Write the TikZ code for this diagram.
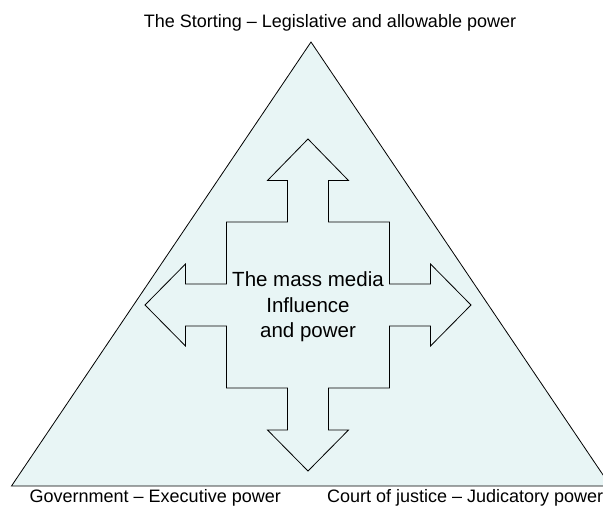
\documentclass[tikz,border=0pt]{standalone}
\usepackage{fontspec}
\setmainfont{Liberation Sans}
\usetikzlibrary{positioning}
\definecolor{paleblue}{RGB}{232,245,245}

\begin{document}
\begin{tikzpicture}[
  x=1pt,y=-1pt,line width=0.8pt,
  power/.style={inner sep=0pt,font=\fontsize{18}{21}\selectfont},
  panel/.style={draw=black,fill=paleblue,line join=miter}
  ]
  \useasboundingbox (0,0) rectangle (603,506);
  \clip (0,0) rectangle (603,506);
  \coordinate (apex)  at (311,42);
  \coordinate (west)  at (11.5,486);
  \coordinate (east)  at (610.5,486);
  \draw[panel] (apex) -- (west) -- (east) -- cycle;
  \draw[panel] (308,139) -- (348.5,180.5) -- (328.5,180.5) -- (328.5,222)
    -- (389.5,222) -- (389.5,284) -- (430.5,284) -- (430.5,264) -- (471,305)
    -- (430.5,346) -- (430.5,326) -- (389.5,326) -- (389.5,388) -- (328.5,388)
    -- (328.5,430) -- (348.5,430) -- (308,471) -- (267.5,430) -- (287.5,430)
    -- (287.5,388) -- (226.5,388) -- (226.5,326) -- (185.5,326) -- (185.5,346)
    -- (145,305) -- (185.5,264) -- (185.5,284) -- (226.5,284) -- (226.5,222)
    -- (287.5,222) -- (287.5,180.5) -- (267.5,180.5) -- cycle;
  \node (media)      [inner sep=0pt,align=center,font=\fontsize{20.5}{25.5}\selectfont]
    at (308,307) {The mass media\\Influence\\and power};
  \node (storting)   [power,anchor=base] at (330,27.7) {The Storting -- Legislative and allowable power};
  \node (government) [power,anchor=base west] at (29.3,502.5) {Government -- Executive power};
  \node (court)      [power,anchor=base west] at (326.7,502.5) {Court of justice -- Judicatory power};
\end{tikzpicture}
\end{document}
